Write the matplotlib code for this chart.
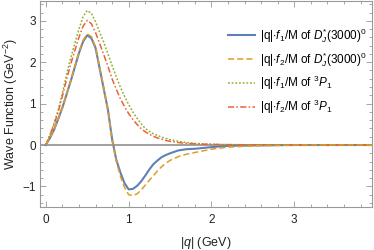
import matplotlib
matplotlib.use("Agg")
import matplotlib.pyplot as plt
from matplotlib.ticker import MultipleLocator

q = [0.0, 0.05, 0.1, 0.15, 0.2, 0.25, 0.3, 0.35, 0.4, 0.45, 0.5, 0.55, 0.6, 0.65,
     0.7, 0.75, 0.8, 0.85, 0.9, 0.95, 1.0, 1.05, 1.1, 1.15, 1.2, 1.25, 1.3, 1.35,
     1.4, 1.45, 1.5, 1.6, 1.7, 1.8, 1.9, 2.0, 2.2, 2.5, 3.0, 3.5, 3.94]

f1_DJ = [0.0, 0.17, 0.37, 0.63, 0.90, 1.22, 1.54, 1.88, 2.22, 2.50, 2.65, 2.58, 2.35, 1.85,
         1.35, 0.85, 0.15, -0.35, -0.66, -0.92, -1.07, -1.06, -0.99, -0.88, -0.74, -0.59, -0.46, -0.37,
         -0.29, -0.24, -0.20, -0.13, -0.10, -0.09, -0.07, -0.05, -0.02, -0.01, 0.0, 0.0, 0.0]

f2_DJ = [0.0, 0.17, 0.37, 0.63, 0.91, 1.23, 1.55, 1.90, 2.24, 2.53, 2.68, 2.62, 2.37, 1.87,
         1.37, 0.85, 0.12, -0.38, -0.75, -1.02, -1.20, -1.22, -1.18, -1.09, -0.97, -0.85, -0.74, -0.62,
         -0.52, -0.44, -0.37, -0.28, -0.22, -0.18, -0.14, -0.10, -0.05, -0.02, 0.0, 0.0, 0.0]

f1_3P1 = [0.0, 0.25, 0.53, 0.85, 1.25, 1.70, 2.10, 2.45, 2.80, 3.10, 3.25, 3.18, 2.98, 2.72,
          2.48, 2.20, 1.92, 1.65, 1.40, 1.18, 0.98, 0.80, 0.65, 0.52, 0.40, 0.33, 0.27, 0.23,
          0.19, 0.16, 0.13, 0.09, 0.06, 0.04, 0.03, 0.02, 0.01, 0.005, 0.0, 0.0, 0.0]

f2_3P1 = [0.0, 0.24, 0.50, 0.80, 1.18, 1.58, 1.95, 2.28, 2.60, 2.87, 3.01, 2.93, 2.72, 2.45,
          2.18, 1.90, 1.60, 1.35, 1.12, 0.93, 0.76, 0.62, 0.50, 0.40, 0.32, 0.26, 0.21, 0.17,
          0.14, 0.11, 0.09, 0.06, 0.04, 0.03, 0.02, 0.015, 0.01, 0.005, 0.0, 0.0, 0.0]

labels = [r"|q|$\cdot$$f_1$/M of $D_J^{*}(3000)^0$",
          r"|q|$\cdot$$f_2$/M of $D_J^{*}(3000)^0$",
          r"|q|$\cdot$$f_1$/M of $^3P_1$",
          r"|q|$\cdot$$f_2$/M of $^3P_1$"]

plt.rcParams['font.family'] = ['Liberation Sans', 'DejaVu Sans']
plt.rcParams['mathtext.fontset'] = 'custom'
plt.rcParams['mathtext.rm'] = 'Liberation Sans'
plt.rcParams['mathtext.it'] = 'Liberation Sans:italic'

fig = plt.figure(figsize=(3.74, 2.5), dpi=100)
ax = fig.add_axes([0.107, 0.173, 0.888, 0.825])

ax.axhline(0, color='#a0a0a0', lw=1.4, zorder=1)
ax.plot(q, f1_DJ, color='#5E81B5', lw=1.5, ls='-', label=labels[0], zorder=3)
ax.plot(q, f2_DJ, color='#E19C24', lw=1.1, ls=(0, (4, 2)), label=labels[1], zorder=4)
ax.plot(q, f1_3P1, color='#8FB032', lw=1.1, ls=(0, (1.2, 1.2)), label=labels[2], zorder=3)
ax.plot(q, f2_3P1, color='#EB6235', lw=1.1, ls=(0, (4, 1.5, 1, 1.5)), label=labels[3], zorder=3)

ax.set_xlim(-0.07, 3.94)
ax.set_ylim(-1.49, 3.49)
ax.xaxis.set_minor_locator(MultipleLocator(0.2))
ax.yaxis.set_minor_locator(MultipleLocator(0.2))
ax.set_xticks([0, 1, 2, 3])
ax.set_xticklabels(['0', '1', '2', '3'])
ax.set_yticks([-1, 0, 1, 2, 3])
ax.set_yticklabels(['\u22121', '0', '1', '2', '3'])
ax.tick_params(which='both', direction='in', top=True, right=True, color='#999999',
               labelsize=8.5, labelcolor='#222222', width=0.6)
ax.tick_params(axis='x', which='major', length=4, pad=5)
ax.tick_params(axis='y', which='major', length=4, pad=3)
ax.tick_params(which='minor', length=2)
for s in ax.spines.values():
    s.set_color('#999999')
    s.set_linewidth(0.8)

ax.set_xlabel(r"|$q$| (GeV)", fontsize=9, color='#222222', labelpad=7)
ax.set_ylabel(r"Wave Function (GeV$^{-2}$)", fontsize=9, color='#222222', labelpad=2)

leg = ax.legend(loc='upper right', bbox_to_anchor=(1.005, 0.91), frameon=False, fontsize=8.5,
                handlelength=2.3, handletextpad=0.4, labelspacing=0.45, borderaxespad=0.2)

fig.savefig('out.png', dpi=100)
